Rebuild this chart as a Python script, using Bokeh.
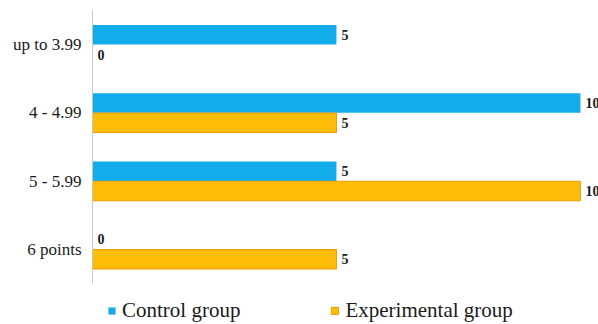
from bokeh.plotting import figure
from bokeh.models import ColumnDataSource, Range1d, FactorRange, Legend, LegendItem, LabelSet
from bokeh.transform import dodge
from bokeh.embed import file_html
from bokeh.resources import INLINE

# Score bands (top to bottom) and number of students in each group
categories = ["up to 3.99", "4 - 4.99", "5 - 5.99", "6 points"]
control = [5, 10, 5, 0]
experimental = [0, 5, 10, 5]

BLUE = "#12ACEB"
ORANGE = "#FFBD0A"
ORANGE_EDGE = "#EE9C00"

src = ColumnDataSource(dict(
    cat=categories,
    control=control,
    experimental=experimental,
    control_lbl=[str(v) for v in control],
    experimental_lbl=[str(v) for v in experimental],
))

p = figure(
    frame_width=506, frame_height=273,
    y_range=FactorRange(factors=list(reversed(categories)), range_padding=0),
    x_range=Range1d(0, 10.37),
    x_axis_location=None,
    output_backend="svg", toolbar_location=None,
    min_border_left=92, min_border_right=0, min_border_top=10, min_border_bottom=0,
)

bar_h = 0.285
off = 0.145
r_ctrl = p.hbar(y=dodge("cat", off, range=p.y_range), right="control", left=0, height=bar_h,
                source=src, fill_color=BLUE, line_color=None)
r_exp = p.hbar(y=dodge("cat", -off, range=p.y_range), right="experimental", left=0, height=bar_h,
               source=src, fill_color=ORANGE, line_color=ORANGE_EDGE, line_width=1)

label_style = dict(text_font="Liberation Sans", text_font_style="bold", text_font_size="14px",
                   text_color="#1a1a1a", text_align="left", text_baseline="middle", x_offset=5)
p.add_layout(LabelSet(x="control", y=dodge("cat", off, range=p.y_range), text="control_lbl",
                      source=src, **label_style))
p.add_layout(LabelSet(x="experimental", y=dodge("cat", -off, range=p.y_range), text="experimental_lbl",
                      source=src, **label_style))

p.xgrid.visible = False
p.ygrid.visible = False
p.outline_line_color = None

ax = p.yaxis[0]
ax.axis_line_color = "#c8c8c8"
ax.major_tick_line_color = None
ax.minor_tick_line_color = None
ax.major_label_text_font = "Liberation Serif"
ax.major_label_text_font_size = "17px"
ax.major_label_text_color = "#1a1a1a"
ax.major_label_standoff = 5

legend = Legend(
    items=[LegendItem(label="Control group", renderers=[r_ctrl]),
           LegendItem(label="Experimental group", renderers=[r_exp])],
    orientation="horizontal", location="top_left",
    label_text_font="Liberation Serif", label_text_font_size="21px", label_text_color="#1a1a1a",
    glyph_width=9, glyph_height=9, label_standoff=6, spacing=90,
    border_line_color=None, background_fill_alpha=0, padding=2, margin=15,
)
p.add_layout(legend, "below")

open("out.html", "w").write(file_html(p, INLINE))
